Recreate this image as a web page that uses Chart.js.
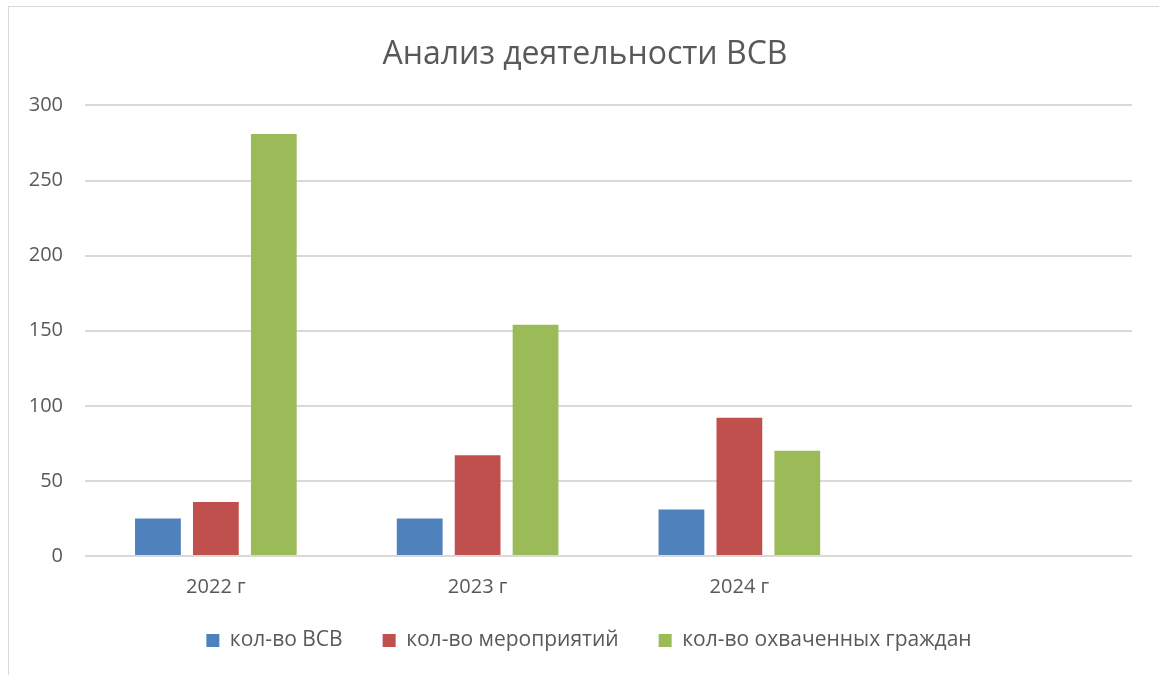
<!DOCTYPE html>
<html>
<head>
<meta charset="utf-8">
<script src="https://cdn.jsdelivr.net/npm/chart.js@4.4.1/dist/chart.umd.min.js"></script>
<style>
  body { margin: 0; background: #fff; }
  #frame { position: absolute; left: 8px; top: 6px; width: 1160px; height: 680px; border: 1px solid #d9d9d9; }
  #wrap { position: absolute; left: 0; top: 0; width: 1159px; height: 675px; }
</style>
</head>
<body>
<div id="frame"></div>
<div id="wrap"><canvas id="BarChart"></canvas></div>
<script>
const years = ['2022 г', '2023 г', '2024 г', ''];
const vsv = [25, 25, 31, null];
const events = [36, 67, 92, null];
const citizens = [281, 154, 70, null];
const yTicks = [0, 50, 100, 150, 200, 250, 300];

const textColor = '#595959';

// title and legend are centred on the whole frame in the original, not on the plot
const nudge = {
    id: 'nudge',
    afterLayout(chart) {
        chart.titleBlock.left += 38;
        chart.legend.left += 46;
        chart.legend.top -= 10;
        chart.legend.bottom -= 10;
    }
};

const data = {
    labels: years,
    datasets: [
        { label: 'кол-во ВСВ', data: vsv, backgroundColor: '#4F81BD' },
        { label: 'кол-во мероприятий', data: events, backgroundColor: '#C0504D' },
        { label: 'кол-во охваченных граждан', data: citizens, backgroundColor: '#9BBB59' }
    ]
};

const config = {
    type: 'bar',
    data: data,
    plugins: [nudge],
    options: {
        responsive: true,
        maintainAspectRatio: false,
        animation: false,
        categoryPercentage: 0.664,
        barPercentage: 0.79,
        layout: {
            padding: { left: 0, right: 27, top: 36, bottom: 4 }
        },
        scales: {
            x: {
                grid: { display: false },
                border: { display: false },
                afterFit: (axis) => { axis.height = 44; },
                ticks: {
                    color: textColor,
                    font: { family: 'Open Sans', size: 20 },
                    padding: 11
                }
            },
            y: {
                min: 0,
                max: 300,
                afterBuildTicks: (axis) => { axis.ticks = yTicks.map(v => ({ value: v })); },
                afterFit: (axis) => { axis.width = 85; },
                grid: { color: '#d9d9d9', lineWidth: 2, drawTicks: false },
                border: { display: false },
                ticks: {
                    color: textColor,
                    font: { family: 'Open Sans', size: 20 },
                    padding: 22
                }
            }
        },
        plugins: {
            title: {
                display: true,
                text: 'Анализ деятельности ВСВ',
                color: textColor,
                font: { family: 'Open Sans', size: 32, weight: 'normal' },
                padding: { top: 0, bottom: 31 }
            },
            legend: {
                position: 'bottom',
                labels: {
                    color: textColor,
                    font: { family: 'Open Sans', size: 21 },
                    boxWidth: 13,
                    boxHeight: 13,
                    padding: 40
                }
            },
            tooltip: { enabled: false }
        }
    }
};

const myChart = new Chart(document.getElementById('BarChart'), config);
</script>
</body>
</html>
